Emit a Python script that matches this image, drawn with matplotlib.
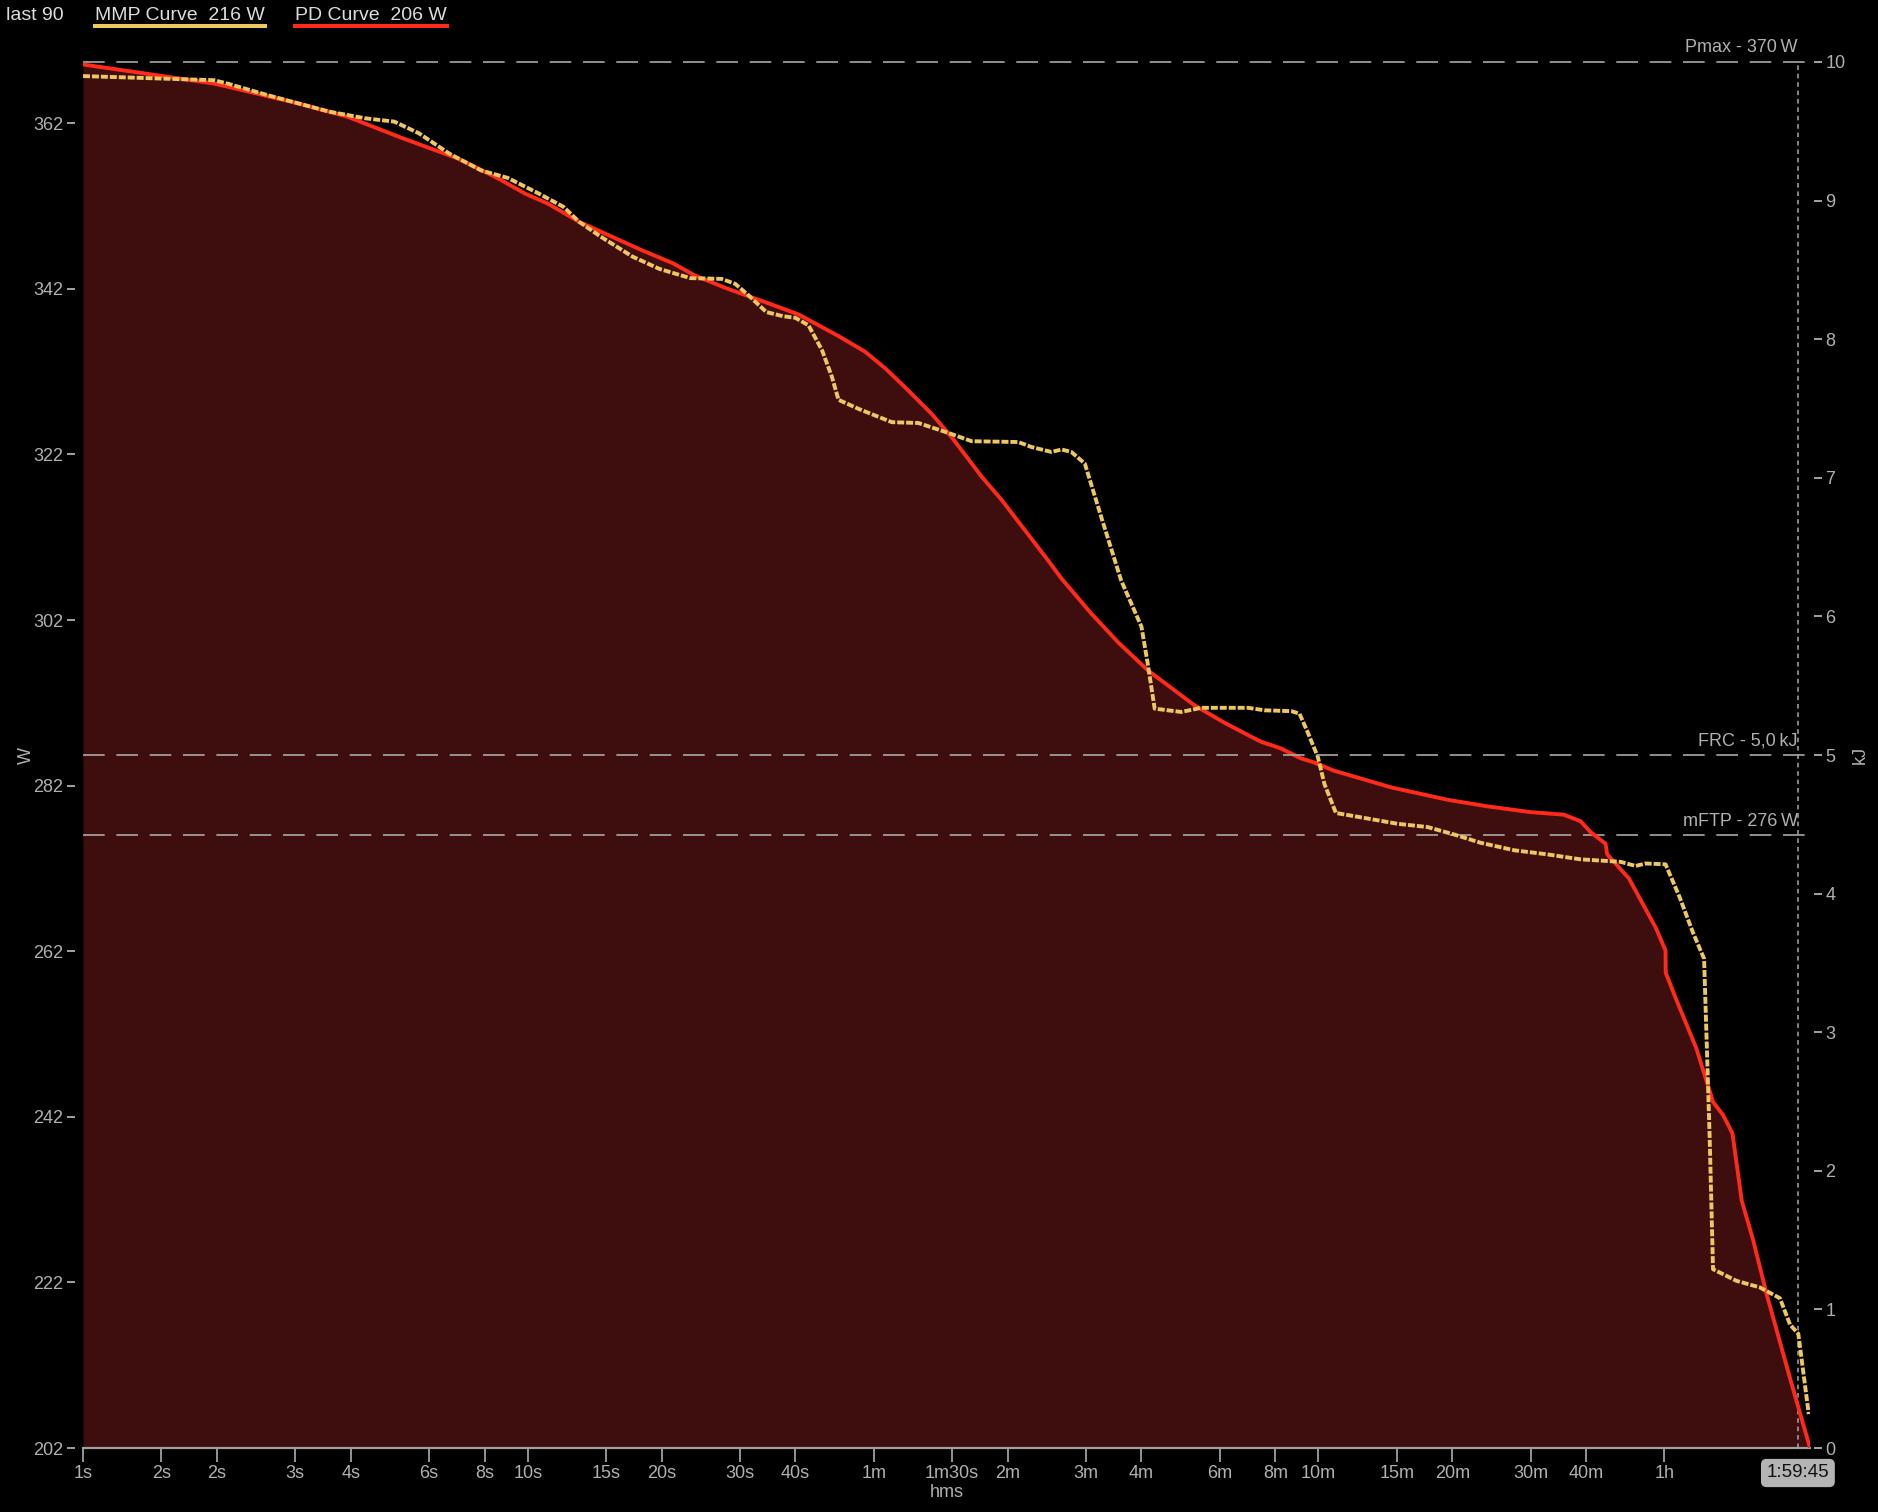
import matplotlib
matplotlib.use("Agg")
import matplotlib.pyplot as plt
import matplotlib.transforms as mtransforms
from matplotlib.lines import Line2D
from matplotlib.ticker import NullLocator

plt.rcParams['font.family'] = ['Liberation Sans', 'DejaVu Sans']

# PD curve (duration in s, watts)
pd_t = [1, 1.97, 3.05, 3.93, 5.17, 7.0, 8.61, 9.87, 11.1, 13.05, 18.0, 21.2, 23.8,
        27.9, 34.2, 40.7, 50.0, 57.4, 63.7, 70.6, 81.0, 89.8, 105, 116.4, 148, 158.7,
        185, 212.8, 248.4, 316, 369, 417, 446, 494, 548, 587, 651, 722, 873, 1170,
        1440, 1801, 2138, 2332, 2455, 2653, 2677, 2771, 2995, 3445, 3620, 3624, 3825,
        4245, 4630, 4880, 5120, 5370, 5700, 6110, 6900, 7650]
pd_w = [369.1, 366.8, 364.4, 362.8, 360.3, 357.7, 355.3, 353.5, 352.3, 350.1, 346.7,
        345.1, 343.6, 342.1, 340.4, 338.9, 336.3, 334.4, 332.4, 330.1, 326.9, 324.1,
        319.3, 316.5, 309.2, 307.0, 302.8, 299.3, 295.9, 291.7, 289.6, 288.1, 287.3,
        286.5, 285.3, 284.8, 283.8, 283.1, 281.8, 280.3, 279.5, 278.8, 278.5, 277.7,
        276.4, 275.0, 273.7, 272.8, 270.8, 264.8, 262.1, 259.4, 256.2, 250.3, 243.8,
        242.2, 240.0, 231.9, 227.1, 220.6, 210.4, 202.0]

# MMP curve (duration in s, watts)
mmp_t = [1, 1.97, 2.11, 2.6, 3.05, 3.58, 4.31, 5.01, 5.69, 6.68, 7.86, 9.02, 10.6,
         12.04, 13.05, 14.6, 17.2, 19.8, 23.2, 27.3, 29.3, 31.4, 34.4, 37.5, 40, 42.8,
         45.9, 48.3, 50.0, 55.5, 65.9, 75.6, 88.3, 99.6, 126.9, 135.8, 150.6, 158.7,
         167, 179, 195, 216, 240, 248, 257, 295, 327, 417, 454, 521, 544, 567, 598,
         619, 657, 761, 903, 1056, 1212, 1390, 1652, 1963, 2332, 2868, 3100, 3265,
         3620, 3890, 4170, 4420, 4550, 4630, 5225, 5900, 6545, 6900, 7200, 7600]
mmp_w = [367.7, 367.2, 366.8, 365.4, 364.4, 363.4, 362.6, 362.2, 360.8, 358.3, 356.3,
         355.4, 353.5, 351.9, 350.1, 348.3, 345.9, 344.4, 343.3, 343.2, 342.6, 341.2,
         339.2, 338.7, 338.5, 337.6, 334.6, 331.4, 328.6, 327.5, 325.9, 325.8, 324.6,
         323.6, 323.5, 322.9, 322.3, 322.6, 322.3, 320.9, 314.4, 306.8, 301.2, 296.7,
         291.3, 290.9, 291.4, 291.4, 291.1, 291.0, 290.7, 288.5, 285.5, 282.2, 278.7,
         278.1, 277.4, 277.0, 276.1, 275.1, 274.2, 273.7, 273.1, 272.8, 272.3, 272.6,
         272.5, 268.6, 264.3, 261.1, 239.5, 223.6, 222.2, 221.4, 220.1, 216.9, 215.8,
         206.1]

x_ticks = [1, 1.5, 2, 3, 4, 6, 8, 10, 15, 20, 30, 40, 60, 90, 120, 180, 240, 360,
           480, 600, 900, 1200, 1800, 2400, 3600]
x_labels = ["1s", "2s", "2s", "3s", "4s", "6s", "8s", "10s", "15s", "20s", "30s",
            "40s", "1m", "1m30s", "2m", "3m", "4m", "6m", "8m", "10m", "15m", "20m",
            "30m", "40m", "1h"]
w_ticks = [202, 222, 242, 262, 282, 302, 322, 342, 362]
kj_ticks = list(range(0, 11))

PMAX = 370
FRC = 5.0
MFTP = 276
T_END = 7185  # 1:59:45

TXT = '#b0b0b0'
GRID = '#a8a8a8'

fig = plt.figure(figsize=(18.78, 15.12), dpi=100, facecolor='black')
ax = fig.add_axes([0.0442, 0.0423, 0.9196, 0.9167])
ax.set_facecolor('black')
ax.set_xscale('log')
ax.set_xlim(1, 7650)
ax.set_ylim(202, 369.4)

ax.fill_between(pd_t, pd_w, 202, color='#3e0e0e', lw=0, zorder=1)
ax.plot(pd_t, pd_w, color='#ff2a1a', lw=2.8, zorder=4, solid_joinstyle='round')
ax.plot(mmp_t, mmp_w, color='#ecc85e', lw=2.8, dashes=(1.8, 0.5), zorder=5)

# reference lines
ytop = ax.get_ylim()[1]
ax.axhline(ytop, color=GRID, lw=1.2, dashes=(13, 7), clip_on=False, zorder=3)
ax.axhline(MFTP, color=GRID, lw=1.2, dashes=(13, 7), zorder=3)
ax.axvline(T_END, color=GRID, lw=1.1, dashes=(3, 2.5), zorder=3)

ax2 = ax.twinx()
ax2.set_ylim(0, 10)
ax2.axhline(FRC, color=GRID, lw=1.2, dashes=(13, 7), zorder=3)

up = mtransforms.ScaledTranslation(0, 4 / 72, fig.dpi_scale_trans)
ax.text(T_END, ytop, f"Pmax - {PMAX}\u2009W", color=TXT, fontsize=13, ha='right',
        va='bottom', transform=ax.transData + up)
ax2.text(T_END, FRC, f"FRC - {FRC:.1f}".replace('.', ',') + "\u2009kJ", color=TXT,
         fontsize=13, ha='right', va='bottom', transform=ax2.transData + up)
ax.text(T_END, MFTP, f"mFTP - {MFTP}\u2009W", color=TXT, fontsize=13, ha='right',
        va='bottom', transform=ax.transData + up)

# axes styling
for s in ax.spines.values():
    s.set_visible(False)
for s in ax2.spines.values():
    s.set_visible(False)
ax.spines['bottom'].set_visible(True)
ax.spines['bottom'].set_color('#a0a0a0')
ax.spines['bottom'].set_linewidth(1.6)
ax.spines['left'].set_position(('outward', 6))
ax2.spines['right'].set_position(('outward', 3))

ax.set_xticks(x_ticks)
ax.set_xticklabels(x_labels)
ax.xaxis.set_minor_locator(NullLocator())
ax.tick_params(axis='x', length=10, width=1.3, color='#a0a0a0', labelcolor=TXT,
               labelsize=13, pad=2)
ax.set_yticks(w_ticks)
ax.tick_params(axis='y', length=6, width=1.3, color=TXT, labelcolor=TXT,
               labelsize=13, pad=2)
ax2.set_yticks(kj_ticks)
ax2.tick_params(axis='y', length=6, width=1.3, color=TXT, labelcolor=TXT,
                labelsize=13, pad=2)

ax.set_xlabel("hms", color=TXT, fontsize=13, labelpad=2)
ax.set_ylabel("W", color=TXT, fontsize=13)
ax.yaxis.set_label_coords(-0.028, 0.5)
ax2.set_ylabel("kJ", color=TXT, fontsize=13)
ax2.yaxis.set_label_coords(1.024, 0.5)

# end-of-ride marker
ax.text(T_END, -0.018, "1:59:45", color='#111111', fontsize=13.5, ha='center', va='center',
        transform=mtransforms.blended_transform_factory(ax.transData, ax.transAxes),
        bbox=dict(boxstyle='round,pad=0.3', fc='#b4b4b4', ec='none'))

# header legend
fig.text(6 / 1878, 0.990, "last 90", color='#dcdcdc', fontsize=14, va='center')
t1 = fig.text(95 / 1878, 0.990, "MMP Curve  216 W", color='#dcdcdc', fontsize=14, va='center')
t2 = fig.text(295 / 1878, 0.990, "PD Curve  206 W", color='#dcdcdc', fontsize=14, va='center')
fig.canvas.draw()
W = fig.bbox.width
for t, c in [(t1, '#ecc85e'), (t2, '#ff2a1a')]:
    bb = t.get_window_extent()
    fig.add_artist(Line2D([bb.x0 / W, bb.x1 / W], [0.983, 0.983], color=c, lw=2.9,
                          transform=fig.transFigure))

fig.savefig("out.png", dpi=100, facecolor='black')
